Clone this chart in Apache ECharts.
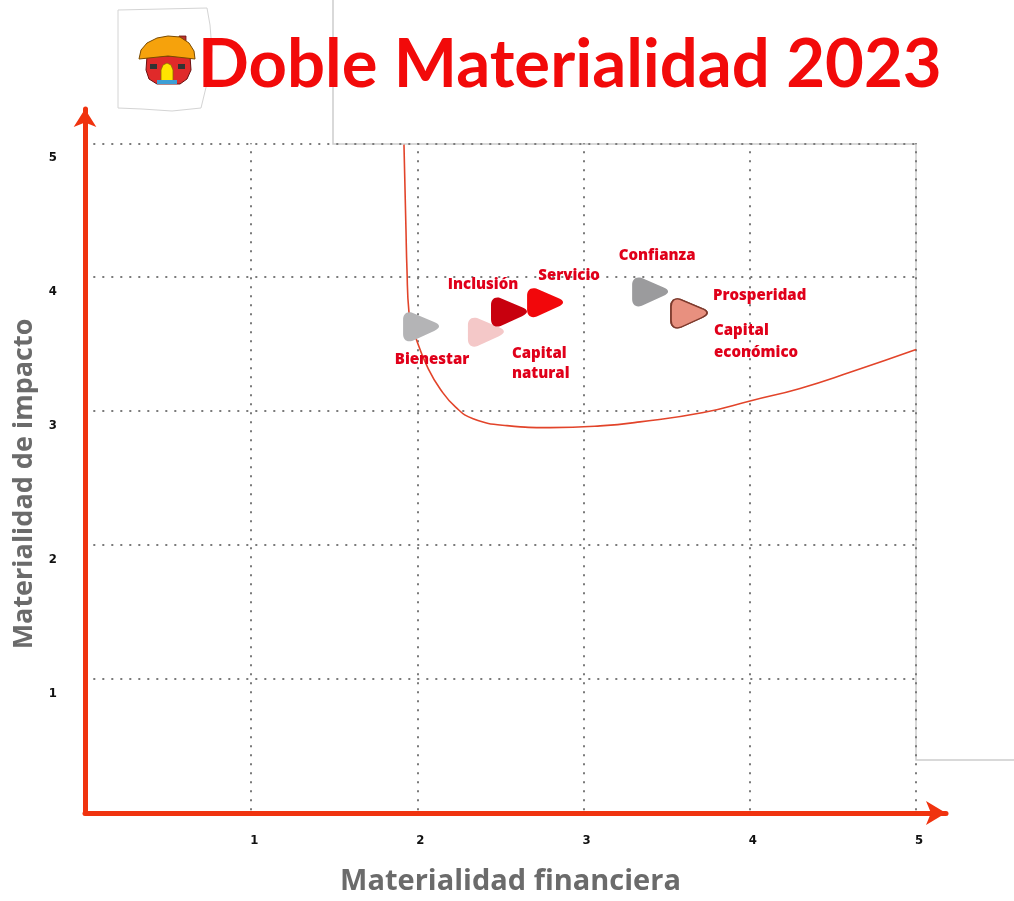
<!DOCTYPE html>
<html>
<head>
<meta charset="utf-8">
<style>
  html, body { margin: 0; padding: 0; background: #ffffff; }
  #chart { width: 1014px; height: 901px; }
</style>
<script src="https://cdn.jsdelivr.net/npm/echarts@6/dist/echarts.min.js"></script>
</head>
<body>
<div id="chart"></div>
<script>
// ---- data ----
const titleText = 'Doble Materialidad 2023';
const xAxisName = 'Materialidad financiera';
const yAxisName = 'Materialidad de impacto';
const xTickValues = [1, 2, 3, 4, 5];
const yTickValues = [1, 2, 3, 4, 5];

// threshold curve
const curveX = [1.919, 1.931, 1.937, 1.949, 1.998, 2.064, 2.136, 2.230, 2.335, 2.539, 2.798, 3.099, 3.339, 3.720, 4.013, 4.302, 4.603, 5.000];
const curveY = [4.99, 4.36, 4.06, 3.74, 3.52, 3.32, 3.167, 3.03, 2.944, 2.892, 2.877, 2.89, 2.92, 2.99, 3.08, 3.17, 3.29, 3.46];

// topics
const topicNames = ['Bienestar', 'Capital\nnatural', 'Inclusión', 'Servicio', 'Confianza', 'Prosperidad', 'Capital\neconómico'];
const topicX = [2.022, 2.412, 2.551, 2.768, 3.400, 3.634, 3.634];
const topicY = [3.63, 3.59, 3.74, 3.81, 3.89, 3.73, 3.73];

// ---- styles ----
const topicColors = ['#b4b4b6', '#f4c8c8', '#c8000e', '#f2070b', '#9b9b9d', '#e8907f', '#e8907f'];
const topicBorders = [null, null, null, null, null, '#7d3a2d', '#7d3a2d'];
const labelCfg = [
  { offset: [11, 33], align: 'center' },
  { offset: [26, 32], align: 'left', lineHeight: 20 },
  { offset: [-26, -27], align: 'center' },
  { offset: [24, -27], align: 'center' },
  { offset: [7, -36], align: 'center' },
  { offset: [24, -18], align: 'left' },
  { offset: [25, 28], align: 'left', lineHeight: 22 }
];
const RED_AXIS = '#f0330f';
const triPath = 'path://M9,0.6 C3,-1 0,2.5 0,8 L0,22 C0,27.5 3.5,31 9.5,28.8 L30.5,19 C37,16 37,12.5 30.5,10 Z';

const chart = echarts.init(document.getElementById('chart'), null, { renderer: 'canvas' });

const gridLineStyle = { type: [2, 7], color: '#7a7a7a', width: 2 };
const gridLines = [];
yTickValues.forEach(v => gridLines.push([{ coord: [0.05, v] }, { coord: [5, v] }]));
xTickValues.forEach(v => gridLines.push([{ coord: [v, 0.02] }, { coord: [v, 5] }]));

const intLabel = v => (Math.abs(v - Math.round(v)) < 1e-6 && v > 0) ? String(Math.round(v)) : '';

const option = {
  animation: false,
  backgroundColor: '#ffffff',
  title: {
    text: titleText,
    left: 198,
    top: 32,
    padding: 0,
    z: 20,
    textStyle: { fontFamily: 'Lato', fontWeight: 'bold', fontSize: 67, color: '#f20a0a' }
  },
  grid: { left: 85, right: 68, top: 109, bottom: 85, containLabel: false },
  xAxis: {
    type: 'value', min: 0, max: 5.18, interval: 1,
    name: xAxisName, nameLocation: 'middle', nameGap: 54,
    nameTextStyle: { fontFamily: 'Open Sans', fontWeight: 'bold', fontSize: 29, color: '#6b6b6b', padding: [0, 10, 0, 0] },
    axisLine: { show: true, onZero: false, symbol: ['none', 'arrow'], symbolSize: [18, 20],
      lineStyle: { color: RED_AXIS, width: 5 } },
    axisTick: { show: false },
    splitLine: { show: false },
    axisLabel: { formatter: intLabel, margin: 21, padding: [0, 0, 0, 6],
      fontFamily: 'Liberation Sans Narrow, DejaVu Sans Condensed, sans-serif', fontWeight: 'bold', fontSize: 13, color: '#111' }
  },
  yAxis: {
    type: 'value', min: 0, max: 5.256, interval: 1,
    name: yAxisName, nameLocation: 'middle', nameGap: 29,
    nameTextStyle: { fontFamily: 'Open Sans', fontWeight: 'bold', fontSize: 27, color: '#6b6b6b', padding: [0, 46, 0, 0] },
    axisLine: { show: true, onZero: false, symbol: ['none', 'arrow'], symbolSize: [17, 18],
      lineStyle: { color: RED_AXIS, width: 5 } },
    axisTick: { show: false },
    splitLine: { show: false },
    axisLabel: { formatter: intLabel, margin: 28, verticalAlign: 'top', padding: [8, 0, 0, 0],
      fontFamily: 'Liberation Sans Narrow, DejaVu Sans Condensed, sans-serif', fontWeight: 'bold', fontSize: 13, color: '#111' }
  },
  graphic: [
    // logo sheet
    { type: 'polygon', z: 10, shape: { points: [[118,10],[207,8],[210,25],[212,50],[209,75],[201,108],[172,111],[142,109],[118,108]] },
      style: { fill: '#ffffff', stroke: '#d4d4d4', lineWidth: 1 } },
    { type: 'polygon', z: 11, shape: { points: [[147,56],[190,56],[191,70],[187,79],[180,84],[157,84],[149,79],[146,70]] },
      style: { fill: '#e02a2a', stroke: '#6b1010', lineWidth: 1 } },
    { type: 'rect', z: 11, shape: { x: 179, y: 36, width: 7, height: 11 }, style: { fill: '#b8322b', stroke: '#6b1010', lineWidth: 0.8 } },
    { type: 'polygon', z: 12, shape: { points: [[139,59],[141,50],[147,43],[157,38],[168,36],[180,37],[189,43],[194,51],[195,59],[168,56]] },
      style: { fill: '#f6a20c', stroke: '#7a4a00', lineWidth: 1 } },
    { type: 'polygon', z: 12, shape: { points: [[161,83],[161,70],[163,65],[167,63],[171,65],[173,70],[173,83]] },
      style: { fill: '#ffe400', stroke: '#8a6d00', lineWidth: 0.8 } },
    { type: 'rect', z: 12, shape: { x: 150, y: 64, width: 7, height: 5 }, style: { fill: '#333' } },
    { type: 'rect', z: 12, shape: { x: 178, y: 64, width: 7, height: 5 }, style: { fill: '#333' } },
    { type: 'rect', z: 12, shape: { x: 157, y: 80, width: 20, height: 4 }, style: { fill: '#3d9fd6' } },
    // frame of the overlaid sheet
    { type: 'polyline', z: 1, shape: { points: [[333, 0], [333, 144], [916, 144], [916, 760], [1014, 760]] },
      style: { stroke: '#cdcdcd', lineWidth: 1.5, fill: null } }
  ],
  series: [
    {
      type: 'line',
      name: 'umbral',
      data: curveX.map((x, i) => [x, curveY[i]]),
      smooth: 0.5,
      symbol: 'none',
      lineStyle: { color: '#e2442a', width: 1.6 },
      z: 3,
      markLine: {
        silent: true, symbol: 'none', label: { show: false },
        lineStyle: gridLineStyle,
        data: gridLines,
        z: 1
      }
    },
    {
      type: 'scatter',
      name: 'temas',
      z: 5,
      symbol: triPath,
      symbolSize: [36, 29],
      data: topicNames.map((n, i) => ({
        name: n,
        value: [topicX[i], topicY[i]],
        itemStyle: { opacity: 1, color: topicColors[i], borderColor: topicBorders[i] || topicColors[i], borderWidth: topicBorders[i] ? 1.5 : 0 },
        label: {
          show: true, position: 'inside', formatter: n,
          offset: labelCfg[i].offset, align: labelCfg[i].align,
          lineHeight: labelCfg[i].lineHeight || 18,
          fontFamily: 'Open Sans', fontWeight: 800, fontSize: 15, color: '#e0001a'
        }
      }))
    }
  ]
};
chart.setOption(option);
</script>
</body>
</html>
